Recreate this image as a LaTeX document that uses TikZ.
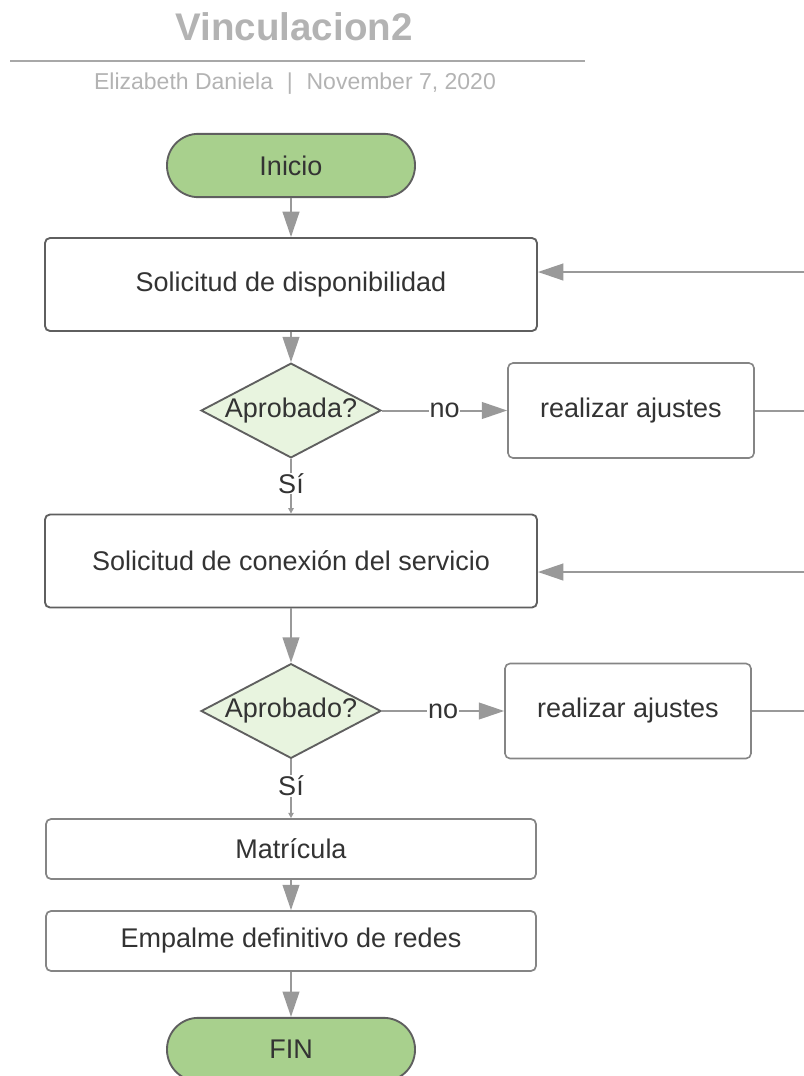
\documentclass[tikz,border=0pt]{standalone}
\usepackage{fontspec}
\setmainfont{Liberation Sans}
\usepackage{xcolor}
\usetikzlibrary{shapes.geometric,arrows.meta,calc}
\definecolor{verde}{HTML}{A8D08D}
\definecolor{verdeclaro}{HTML}{E8F4DF}
\definecolor{borde}{HTML}{5F5F5F}
\definecolor{bordeclaro}{HTML}{858585}
\definecolor{flecha}{HTML}{999999}
\definecolor{texto}{HTML}{333333}
\definecolor{titulo}{HTML}{B3B3B3}
\definecolor{linea}{HTML}{A8A8A8}
\tikzset{
  terminal/.style={draw=borde,line width=1.4pt,fill=verde,rounded corners=23.5pt,
    minimum width=186pt,minimum height=47.5pt,text=texto},
  proceso/.style={draw=borde,line width=1.4pt,fill=white,rounded corners=3.75pt,
    minimum width=369pt,minimum height=69.75pt,text=texto},
  paso/.style={draw=bordeclaro,line width=1.3pt,fill=white,rounded corners=3.75pt,
    minimum width=367.5pt,minimum height=45pt,text=texto},
  ajuste/.style={draw=bordeclaro,line width=1.2pt,fill=white,rounded corners=3.75pt,
    minimum width=184.5pt,minimum height=71.25pt,text=texto},
  decision/.style={diamond,draw=borde,line width=1.4pt,fill=verdeclaro,aspect=1.9,
    inner sep=0pt,minimum width=133pt,minimum height=70.5pt,text=texto},
  flujo/.style={draw=flecha,line width=1.5pt,-{Triangle[length=19pt,width=12.5pt]}},
  linea si/.style={draw=flecha,line width=1.5pt,-{Triangle[length=4pt,width=4pt]}},
  etiqueta/.style={fill=white,inner sep=0.5pt,text=texto}
}
\begin{document}
\begin{tikzpicture}[x=0.75pt,y=-0.75pt,every node/.style={font=\fontsize{20.25}{24}\selectfont}]
    \useasboundingbox (0,0) rectangle (804,1076);
    % encabezado
    \node[anchor=base,text=titulo,font=\bfseries\fontsize{28.9}{34}\selectfont] (titulo) at (294,40) {Vinculacion2};
    \draw[draw=linea,line width=2.2pt] (10,61) -- (585,61);
    \node[anchor=base,text=titulo,font=\fontsize{17.25}{20}\selectfont] (autor) at (295,89)
        {Elizabeth Daniela\hspace{0.6em}|\hspace{0.6em}November 7, 2020};
    % nodos
    \node[terminal] (inicio) at (291,165.5) {Inicio};
    \node[proceso] (sol1) at (291,284.5) {Solicitud de disponibilidad};
    \node[decision] (dec1) at (291,410.5) {Aprobada?};
    \node[ajuste] (aj1) at (631,410.5) {realizar ajustes};
    \node[proceso] (sol2) at (291,561) {Solicitud de conexión del servicio};
    \node[decision] (dec2) at (291,711) {Aprobado?};
    \node[ajuste] (aj2) at (628,711) {realizar ajustes};
    \node[paso] (mat) at (291,849) {Matrícula};
    \node[paso] (emp) at (291,941) {Empalme definitivo de redes};
    \node[terminal] (fin) at (291,1049.5) {FIN};
    % conectores
    \coordinate (vuelta1) at (830,272);
    \coordinate (vuelta2) at (830,572);
    \draw[flujo] (inicio) -- (sol1);
    \draw[flujo] (sol1) -- (dec1);
    \draw[flujo] (dec1) -- node[etiqueta]{no} (aj1);
    \draw[flujo] (aj1.east) -| (vuelta1) -- (vuelta1 -| sol1.east);
    \draw[linea si] (dec1) -- node[etiqueta,pos=0.45]{Sí} (sol2);
    \draw[flujo] (sol2) -- (dec2);
    \draw[flujo] (dec2) -- node[etiqueta]{no} (aj2);
    \draw[flujo] (aj2.east) -| (vuelta2) -- (vuelta2 -| sol2.east);
    \draw[linea si] (dec2) -- node[etiqueta,pos=0.45]{Sí} (mat);
    \draw[flujo] (mat) -- (emp);
    \draw[flujo] (emp) -- (fin);
\end{tikzpicture}
\end{document}
